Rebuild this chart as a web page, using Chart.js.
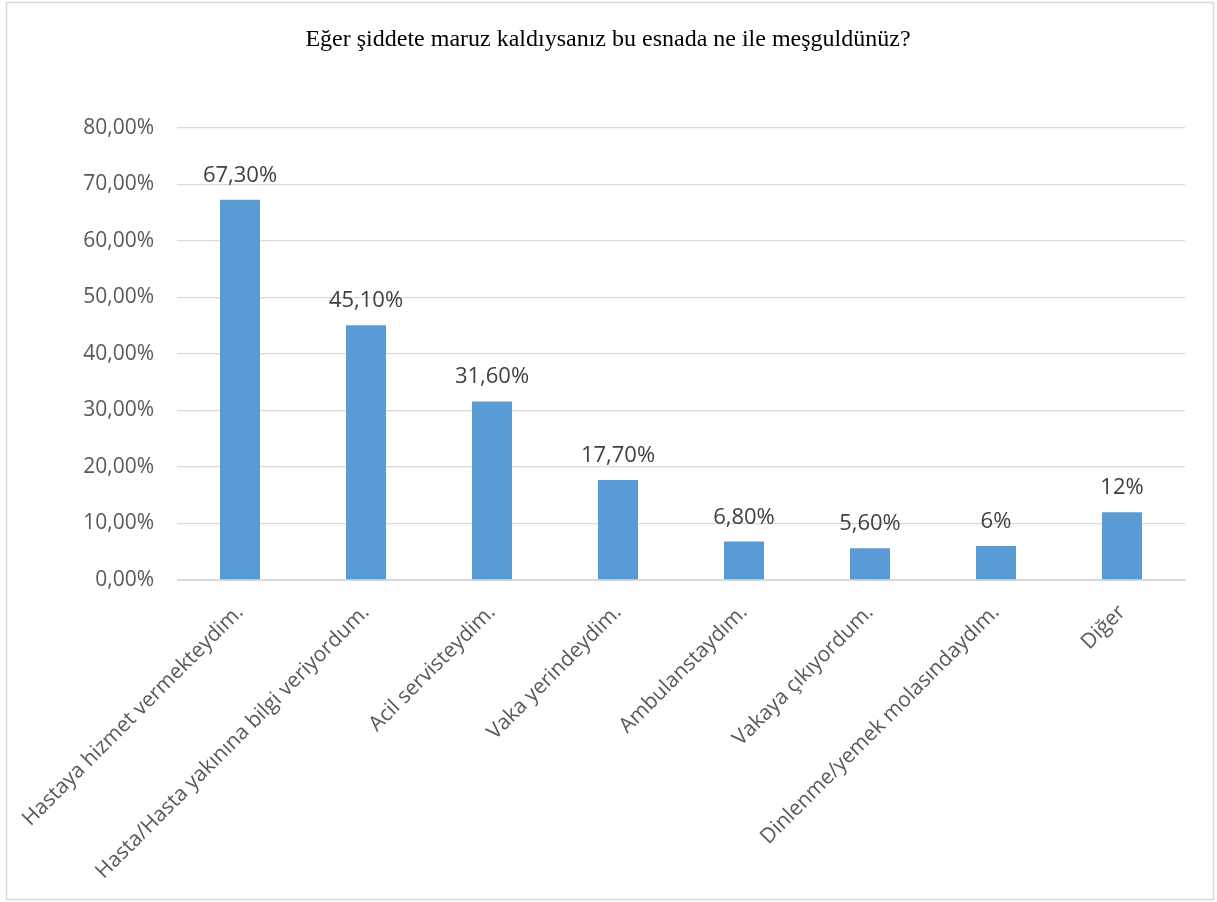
<!DOCTYPE html>
<html>
<head>
<meta charset="utf-8">
<script src="https://cdn.jsdelivr.net/npm/chart.js@4"></script>
<style>
  body { margin: 0; background: #fff; }
  #wrap { width: 1217px; height: 902px; position: relative; }
</style>
</head>
<body>
<div id="wrap"><canvas id="grafico" width="1217" height="902"></canvas></div>
<script>
const titulo = "Eğer şiddete maruz kaldıysanız bu esnada ne ile meşguldünüz?";
const categorias = [
  "Hastaya hizmet vermekteydim.",
  "Hasta/Hasta yakınına bilgi veriyordum.",
  "Acil servisteydim.",
  "Vaka yerindeydim.",
  "Ambulanstaydım.",
  "Vakaya çıkıyordum.",
  "Dinlenme/yemek molasındaydım.",
  "Diğer"
];
const valores = [67.3, 45.1, 31.6, 17.7, 6.8, 5.6, 6, 12];
const rotulos = ["67,30%", "45,10%", "31,60%", "17,70%", "6,80%", "5,60%", "6%", "12%"];
const ticksY = [0, 10, 20, 30, 40, 50, 60, 70, 80];

// moldura + titulo + rotulos de dados
const extras = {
  id: 'extras',
  beforeDraw(chart) {
    const ctx = chart.ctx;
    ctx.save();
    ctx.fillStyle = '#fff';
    ctx.fillRect(0, 0, chart.width, chart.height);
    ctx.strokeStyle = '#d9d9d9';
    ctx.lineWidth = 1.5;
    ctx.strokeRect(6.5, 2.5, 1207, 897);
    ctx.fillStyle = '#000';
    ctx.font = '24px "Liberation Serif", "Times New Roman", serif';
    ctx.textAlign = 'center';
    ctx.textBaseline = 'middle';
    ctx.fillText(titulo, 608, 40);
    ctx.restore();
  },
  afterDatasetsDraw(chart) {
    const ctx = chart.ctx;
    const meta = chart.getDatasetMeta(0);
    ctx.save();
    ctx.fillStyle = '#404040';
    ctx.font = '22px "Open Sans", sans-serif';
    ctx.textAlign = 'center';
    ctx.textBaseline = 'alphabetic';
    meta.data.forEach((bar, i) => {
      ctx.fillText(rotulos[i], bar.x, bar.y - 18);
    });
    ctx.restore();
  }
};

new Chart(document.getElementById('grafico'), {
  type: 'bar',
  data: {
    labels: categorias,
    datasets: [{
      data: valores,
      backgroundColor: '#5b9bd5',
      barPercentage: 0.635,
      categoryPercentage: 0.5
    }]
  },
  options: {
    responsive: false,
    animation: false,
    layout: { padding: { top: 128, right: 32, left: 0, bottom: 0 } },
    plugins: { legend: { display: false }, tooltip: { enabled: false } },
    scales: {
      x: {
        grid: { display: false },
        border: { color: '#d9d9d9' },
        ticks: {
          color: '#595959',
          font: { family: '"Open Sans", sans-serif', size: 21 },
          minRotation: 45,
          maxRotation: 45,
          padding: 12
        },
        afterFit(scale) { scale.height = 322; }
      },
      y: {
        min: 0,
        max: 80,
        afterBuildTicks(scale) { scale.ticks = ticksY.map(v => ({ value: v })); },
        grid: { color: '#d9d9d9', lineWidth: 1.3, drawTicks: false },
        border: { display: false },
        ticks: {
          color: '#595959',
          font: { family: '"Open Sans", sans-serif', size: 21 },
          padding: 23,
          callback: v => v.toFixed(2).replace('.', ',') + '%'
        },
        afterFit(scale) { scale.width = 177; }
      }
    }
  },
  plugins: [extras]
});
</script>
</body>
</html>
